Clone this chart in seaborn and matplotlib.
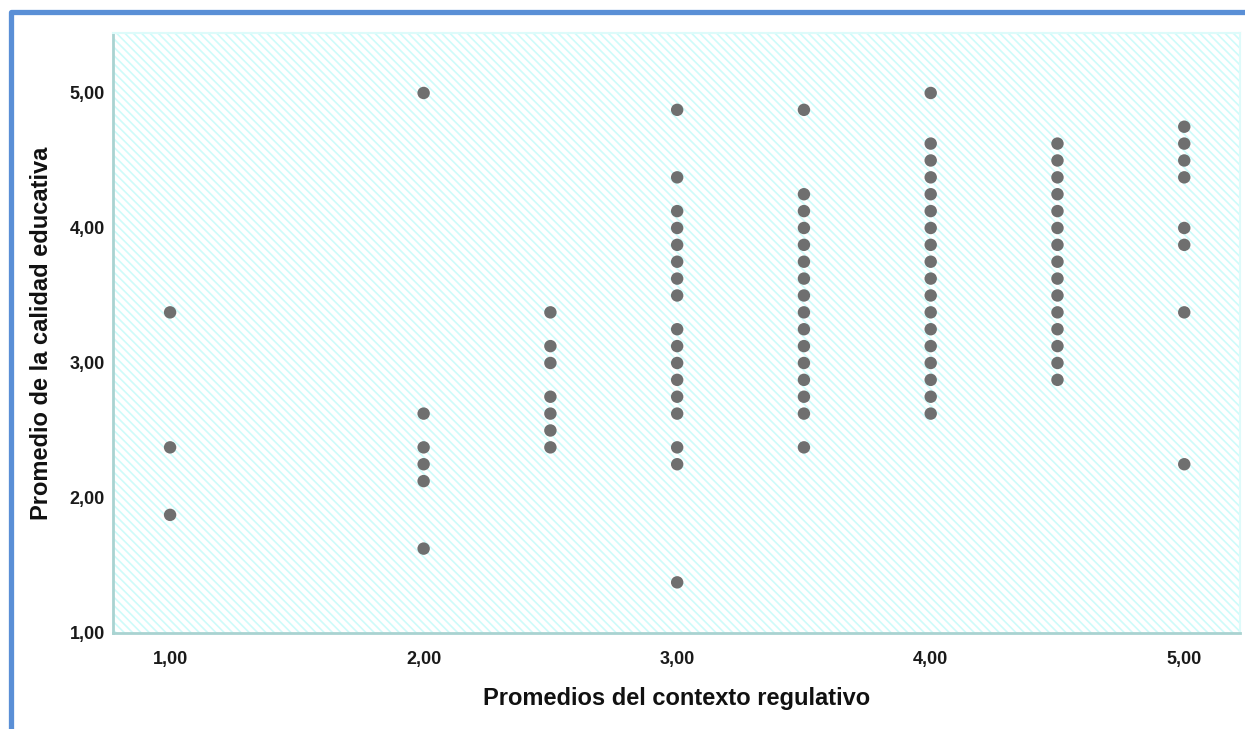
import matplotlib.pyplot as plt
from matplotlib.patches import Rectangle
import seaborn as sns
import pandas as pd

# values per column of the scatter (x = promedio del contexto regulativo)
y_at_1_00 = [3.375, 2.375, 1.875]
y_at_2_00 = [5.0, 2.625, 2.375, 2.25, 2.125, 1.625]
y_at_2_50 = [3.375, 3.125, 3.0, 2.75, 2.625, 2.5, 2.375]
y_at_3_00 = [4.875, 4.375, 4.125, 4.0, 3.875, 3.75, 3.625, 3.5, 3.25, 3.125,
             3.0, 2.875, 2.75, 2.625, 2.375, 2.25, 1.375]
y_at_3_50 = [4.875, 4.25, 4.125, 4.0, 3.875, 3.75, 3.625, 3.5, 3.375, 3.25,
             3.125, 3.0, 2.875, 2.75, 2.625, 2.375]
y_at_4_00 = [5.0, 4.625, 4.5, 4.375, 4.25, 4.125, 4.0, 3.875, 3.75, 3.625,
             3.5, 3.375, 3.25, 3.125, 3.0, 2.875, 2.75, 2.625]
y_at_4_50 = [4.625, 4.5, 4.375, 4.25, 4.125, 4.0, 3.875, 3.75, 3.625, 3.5,
             3.375, 3.25, 3.125, 3.0, 2.875]
y_at_5_00 = [4.75, 4.625, 4.5, 4.375, 4.0, 3.875, 3.375, 2.25]

columns = {1.0: y_at_1_00, 2.0: y_at_2_00, 2.5: y_at_2_50, 3.0: y_at_3_00,
           3.5: y_at_3_50, 4.0: y_at_4_00, 4.5: y_at_4_50, 5.0: y_at_5_00}

x_ticks = [1, 2, 3, 4, 5]
y_ticks = [1, 2, 3, 4, 5]
x_label = "Promedios del contexto regulativo"
y_label = "Promedio de la calidad educativa"

df = pd.DataFrame([(x, y) for x, ys in columns.items() for y in ys],
                  columns=["contexto", "calidad"])

sns.set_style("white")
plt.rcParams["font.family"] = ["Liberation Sans", "DejaVu Sans"]
plt.rcParams["hatch.linewidth"] = 1.2

fig = plt.figure(figsize=(12.45, 7.29), dpi=100)
ax = fig.add_axes([0.0908, 0.1317, 0.9052, 0.823])

# hatched pale cyan background
ax.patch.set_facecolor("white")
ax.patch.set_edgecolor("#cefbfa")
ax.patch.set_hatch("\\\\\\\\")
ax.patch.set_linewidth(0)

sns.scatterplot(data=df, x="contexto", y="calidad", ax=ax, s=80,
                color="#6f6f6f", edgecolor="none", zorder=3)

ax.set_xlim(0.775, 5.22)
ax.set_ylim(1.0, 5.444)
ax.set_xticks(x_ticks)
ax.set_yticks(y_ticks)
ax.set_xticklabels([f"{v:.2f}".replace(".", ",") for v in x_ticks],
                   fontweight="bold", fontsize=13)
ax.set_yticklabels([f"{v:.2f}".replace(".", ",") for v in y_ticks],
                   fontweight="bold", fontsize=13)
ax.tick_params(length=0, colors="#1a1a1a")
ax.tick_params(axis="x", pad=13)
ax.tick_params(axis="y", pad=6)

ax.set_xlabel(x_label, fontsize=17, fontweight="bold", labelpad=14,
              color="#111111")
ax.set_ylabel(y_label, fontsize=17, fontweight="bold", labelpad=12,
              color="#111111")

for side in ["left", "bottom"]:
    ax.spines[side].set_color("#a9d3d1")
    ax.spines[side].set_linewidth(2)
for side in ["top", "right"]:
    ax.spines[side].set_color("#ddfbfa")
    ax.spines[side].set_linewidth(1.5)

# blue frame (only top and left edges fall inside the image)
fig.add_artist(Rectangle((10.5 / 1245, -0.2), 1.2, 1.2 - 12.5 / 729,
                         transform=fig.transFigure, fill=False,
                         edgecolor="#5a8fd6", linewidth=3.8,
                         joinstyle="round"))

fig.savefig("out.png", dpi=100)
